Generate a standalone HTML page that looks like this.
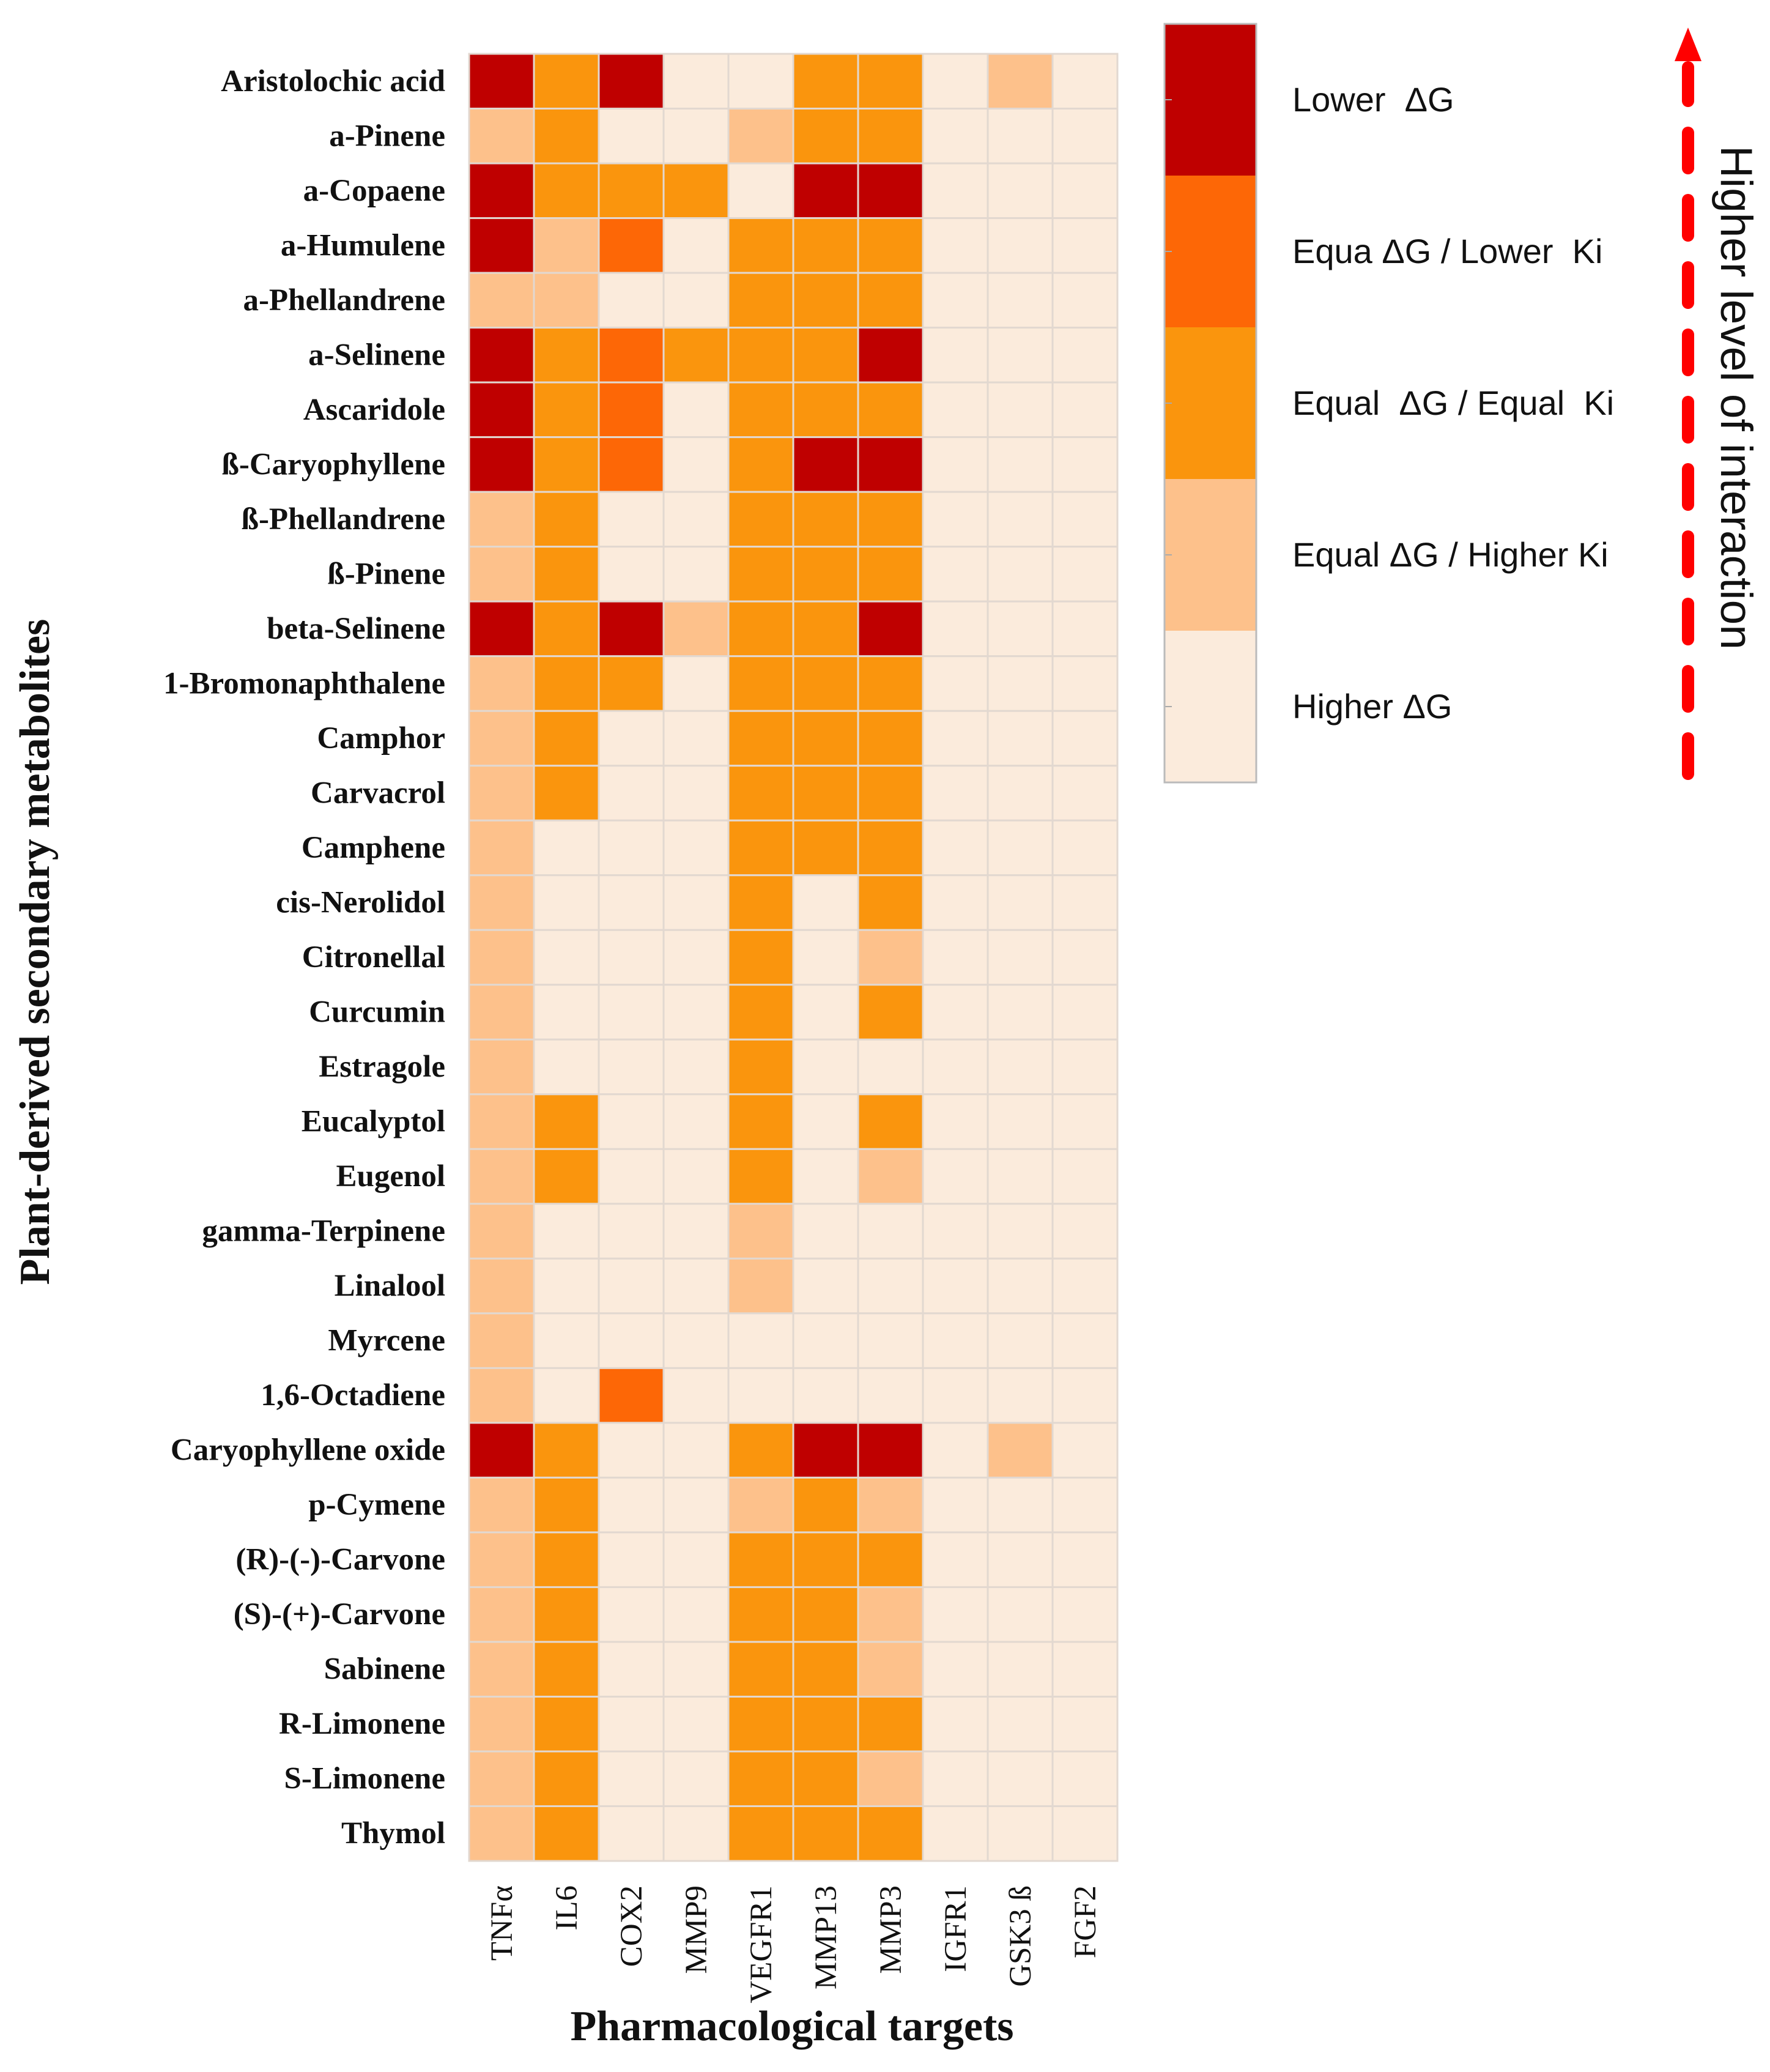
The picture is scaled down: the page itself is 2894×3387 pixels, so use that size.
<!DOCTYPE html>
<html><head><meta charset="utf-8"><style>
html,body{margin:0;padding:0;background:#fff;}
svg{display:block;}
</style></head><body>
<svg id="chart" width="2894" height="3387" xmlns="http://www.w3.org/2000/svg">
<g id="cells"></g>
<g id="ylabels" font-family="Liberation Serif, serif" font-weight="bold" font-size="51" fill="#111" text-anchor="end"></g>
<g id="xlabels" font-family="Liberation Serif, serif" font-size="51" fill="#111" text-anchor="end"></g>
<text x="0" y="0" transform="translate(80,1556) rotate(-90)" text-anchor="middle" font-family="Liberation Serif, serif" font-weight="bold" font-size="70" fill="#111">Plant-derived secondary metabolites</text>
<text x="1295" y="3335" text-anchor="middle" font-family="Liberation Serif, serif" font-weight="bold" font-size="70" fill="#111">Pharmacological targets</text>
<g id="legend"></g>
<g>
<line x1="2760" y1="1265" x2="2760" y2="110" stroke="#f00" stroke-width="20" stroke-linecap="round" stroke-dasharray="58 52"/>
<polygon points="2760,45 2738,100 2782,100" fill="#f00"/>
</g>
<text transform="translate(2814,650) rotate(90)" text-anchor="middle" font-family="Liberation Sans, sans-serif" font-size="73" fill="#111">Higher level of interaction</text>
</svg>
<script>
const rows = ["Aristolochic acid","a-Pinene","a-Copaene","a-Humulene","a-Phellandrene","a-Selinene","Ascaridole","ß-Caryophyllene","ß-Phellandrene","ß-Pinene","beta-Selinene","1-Bromonaphthalene","Camphor","Carvacrol","Camphene","cis-Nerolidol","Citronellal","Curcumin","Estragole","Eucalyptol","Eugenol","gamma-Terpinene","Linalool","Myrcene","1,6-Octadiene","Caryophyllene oxide","p-Cymene","(R)-(-)-Carvone","(S)-(+)-Carvone","Sabinene","R-Limonene","S-Limonene","Thymol"];
const cols = ["TNFα","IL6","COX2","MMP9","VEGFR1","MMP13","MMP3","IGFR1","GSK3 ß","FGF2"];
const values = [
[4,2,4,0,0,2,2,0,1,0],[1,2,0,0,1,2,2,0,0,0],[4,2,2,2,0,4,4,0,0,0],[4,1,3,0,2,2,2,0,0,0],
[1,1,0,0,2,2,2,0,0,0],[4,2,3,2,2,2,4,0,0,0],[4,2,3,0,2,2,2,0,0,0],[4,2,3,0,2,4,4,0,0,0],
[1,2,0,0,2,2,2,0,0,0],[1,2,0,0,2,2,2,0,0,0],[4,2,4,1,2,2,4,0,0,0],[1,2,2,0,2,2,2,0,0,0],
[1,2,0,0,2,2,2,0,0,0],[1,2,0,0,2,2,2,0,0,0],[1,0,0,0,2,2,2,0,0,0],[1,0,0,0,2,0,2,0,0,0],
[1,0,0,0,2,0,1,0,0,0],[1,0,0,0,2,0,2,0,0,0],[1,0,0,0,2,0,0,0,0,0],[1,2,0,0,2,0,2,0,0,0],
[1,2,0,0,2,0,1,0,0,0],[1,0,0,0,1,0,0,0,0,0],[1,0,0,0,1,0,0,0,0,0],[1,0,0,0,0,0,0,0,0,0],
[1,0,3,0,0,0,0,0,0,0],[4,2,0,0,2,4,4,0,1,0],[1,2,0,0,1,2,1,0,0,0],[1,2,0,0,2,2,2,0,0,0],
[1,2,0,0,2,2,1,0,0,0],[1,2,0,0,2,2,1,0,0,0],[1,2,0,0,2,2,2,0,0,0],[1,2,0,0,2,2,1,0,0,0],
[1,2,0,0,2,2,2,0,0,0]];
const levelLabels = ["Higher ΔG","Equal ΔG / Higher Ki","Equal  ΔG / Equal  Ki","Equa ΔG / Lower  Ki","Lower  ΔG"];
const palette = ["#fbebdc","#fdc18b","#fa950d","#fd6706","#bf0000"];

const NS="http://www.w3.org/2000/svg";
const gx0=767, gx1=1827, gy0=88, gy1=3042;
const cw=(gx1-gx0)/cols.length, rh=(gy1-gy0)/rows.length;
const xs=i=>gx0+i*cw, ys=j=>gy0+j*rh;
function mk(t,a){const e=document.createElementNS(NS,t);for(const k in a)e.setAttribute(k,a[k]);return e;}
const cells=document.getElementById('cells');
values.forEach((r,j)=>r.forEach((v,i)=>{
  const c=mk('rect',{x:xs(i),y:ys(j),width:cw,height:rh,fill:palette[v],stroke:'#e2d8d0','stroke-width':3});
  
  
  cells.appendChild(c);
}));
const yl=document.getElementById('ylabels');
rows.forEach((n,j)=>{
  const t=mk('text',{x:728,y:ys(j)+rh/2+16});t.textContent=n;
  
  
  yl.appendChild(t);
});
const xl=document.getElementById('xlabels');
cols.forEach((n,i)=>{
  const t=mk('text',{x:0,y:0,transform:`translate(${xs(i)+cw/2+17},3082) rotate(-90)`});t.textContent=n;
  
  
  xl.appendChild(t);
});
const lg=document.getElementById('legend');
const lx=1904, lw=150, ly0=39, lh=248;
for(let k=0;k<5;k++){
  const lvl=4-k, y=ly0+k*lh;
  const r=mk('rect',{x:lx,y:y,width:lw,height:lh,fill:palette[lvl]});
  
  
  lg.appendChild(r);
  const tk=mk('line',{x1:lx,x2:lx+12,y1:y+lh/2,y2:y+lh/2,stroke:'#aaa','stroke-width':2});
  
  
  lg.appendChild(tk);
  const t=mk('text',{x:2113,y:y+lh/2+19,'font-family':'Liberation Sans, sans-serif','font-size':56,fill:'#111','xml:space':'preserve'});
  t.setAttribute('style','white-space:pre');
  t.textContent=levelLabels[lvl];
  
  
  lg.appendChild(t);
}
const fr=mk('rect',{x:lx,y:ly0,width:lw,height:lh*5,fill:'none',stroke:'#bbb','stroke-width':3});


lg.appendChild(fr);
</script>
</body></html>
